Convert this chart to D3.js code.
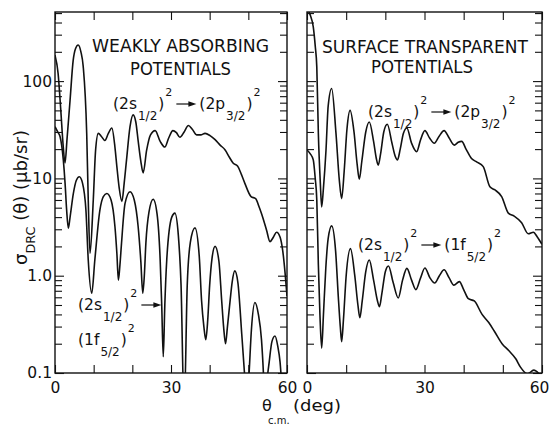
<!DOCTYPE html>
<html><head><meta charset="utf-8">
<script src="https://cdn.jsdelivr.net/npm/d3@7"></script>
<style>
body{margin:0;background:#fff}
svg{display:block}
text{font-family:"DejaVu Sans","Liberation Sans",sans-serif;fill:#111}
</style>
</head><body>
<svg id="c" width="550" height="426"></svg>
<script>
// ---------- data ----------
const xTickValues = [0, 10, 20, 30, 40, 50, 60];
const xTickLabels = ["0", "", "", "30", "", "", "60"];
const yMajorValues = [0.1, 1, 10, 100];
const yMajorLabels = ["0.1", "1.0", "10", "100"];
const panelTitles = [["WEAKLY ABSORBING", "POTENTIALS"], ["SURFACE TRANSPARENT", "POTENTIALS"]];

// [theta (deg), sigma (μb/sr)]
const wa2p = [[0,185],[0.8,120],[1.5,50],[2.1,22],[2.6,14.4],[3.1,25],[3.9,64],[4.7,163],[5.3,215],[6.0,235],[6.7,200],[7.3,141],[8.2,29],[8.6,6],[9.05,1.7],[9.9,6],[10.5,19.5],[11.2,29],[12.0,27],[12.9,24.5],[13.8,29],[14.7,33],[15.5,21],[16.0,13.2],[16.6,8],[17.3,5.8],[17.9,9],[18.5,15.5],[19.4,34],[20.2,45],[20.9,38],[21.5,24.5],[22.2,15],[22.8,11.4],[23.7,19.5],[24.7,28],[25.9,31],[27.2,24],[28.4,21],[29.4,26],[30.5,31],[31.4,29.5],[32.3,26.5],[33.4,30],[34.5,35],[35.5,32],[36.6,28],[37.7,28],[38.8,29],[40.1,27.5],[41.4,25],[42.7,22],[44.0,19.6],[45.1,16.5],[46.1,14.3],[47.2,13.4],[48.2,11],[49.1,8.9],[50.7,6.5],[51.9,6.2],[52.7,5.2],[53.4,4.35],[54.7,2.95],[55.6,2.24],[56.5,2.5],[57.3,2.8],[58.2,2.5],[58.9,1.8],[59.5,1.07],[60,0.62]];
const wa1f = [[0,34],[0.7,30],[1.3,27],[2.15,15.5],[2.6,9],[3.0,4.8],[3.45,3.07],[3.9,4],[4.75,7],[5.5,9.5],[6.3,10.4],[7.1,9],[8.0,4.7],[8.6,1.45],[9.5,0.66],[10.3,1.45],[11.6,4.7],[12.5,6.5],[13.4,7.0],[14.5,6],[15.5,3.2],[16.0,1.7],[16.4,0.9],[16.8,1.3],[17.2,2.15],[18.1,5.5],[19.4,7.3],[20.5,6],[21.5,3.2],[22.2,1.4],[22.7,0.66],[23.1,1.0],[23.5,2.15],[24.3,4.5],[25.4,6.1],[26.4,4.3],[27.2,1.45],[27.6,0.5],[28.0,0.147],[28.4,0.5],[28.9,1.45],[30.2,4.0],[31.0,4.4],[31.9,2.6],[32.6,0.8],[33.4,0.04],[34.2,0.8],[35.0,2.2],[36.2,3.1],[37.3,1.6],[37.9,0.56],[38.5,0.3],[39.0,0.22],[39.5,0.35],[40.0,0.8],[40.6,1.5],[41.4,2.0],[42.4,1.4],[43.1,0.56],[43.6,0.3],[44.1,0.2],[44.6,0.3],[45.3,0.56],[45.8,0.85],[46.5,1.12],[47.3,0.85],[48.3,0.25],[49.0,0.1],[49.6,0.04],[50.2,0.1],[50.8,0.28],[51.7,0.53],[52.6,0.4],[53.4,0.22],[53.9,0.1],[54.3,0.04],[54.8,0.08],[55.4,0.13],[56.1,0.21],[56.9,0.24],[57.6,0.19],[58.2,0.13],[58.8,0.06],[59.3,0.03]];
const st2p = [[0,560],[0.8,480],[1.6,360],[2.1,230],[2.5,140],[2.9,29],[3.4,9],[3.75,5.1],[4.2,8],[4.85,19.5],[5.4,55],[6.3,84],[7.4,29],[8.25,9.6],[8.85,6.2],[9.5,12],[10.2,32],[11.0,50],[12.0,30],[12.8,14],[13.35,9.8],[14.0,15],[15.0,30],[15.9,38],[17.0,24],[17.7,16],[18.2,13.7],[18.8,18],[19.6,30],[20.5,36],[21.7,23],[22.5,17],[23.1,15.5],[23.8,20],[24.6,29],[25.5,33],[26.7,23],[28.0,18.8],[29.0,25],[30.1,31],[31.3,26],[32.5,23],[33.7,27],[35.0,31],[36.3,26],[37.6,22],[38.6,23.5],[39.5,24],[40.6,20],[42.0,16],[43.3,14.8],[45.0,13.2],[46.7,8.2],[48.0,7.6],[49.7,6.5],[51.4,4.4],[52.9,4.1],[54.8,3.5],[56.5,2.7],[57.8,2.8],[58.8,2.5],[60,2.1]];
const st1f = [[0,19.6],[0.8,18],[1.6,15.5],[2.1,10],[2.5,6],[2.9,1.3],[3.3,0.4],[3.75,0.18],[4.2,0.4],[4.8,1.2],[5.4,2.4],[6.3,3.25],[7.3,1.8],[8.0,0.6],[8.5,0.3],[8.85,0.21],[9.3,0.35],[10.0,1.0],[11.1,1.9],[12.2,1.0],[13.0,0.5],[13.5,0.37],[14.1,0.55],[15.0,1.1],[15.9,1.45],[17.0,0.9],[18.0,0.55],[18.5,0.48],[19.1,0.65],[20.0,1.1],[20.8,1.26],[22.0,0.85],[23.3,0.59],[24.4,0.9],[25.5,1.19],[26.7,0.9],[27.8,0.72],[29.0,0.95],[30.1,1.2],[31.4,0.95],[32.6,0.84],[33.8,1.0],[35.0,1.15],[36.3,0.95],[37.5,0.8],[38.9,0.87],[40.0,0.72],[41.2,0.58],[42.7,0.55],[44.7,0.4],[46.4,0.33],[47.8,0.27],[49.8,0.2],[51.5,0.17],[53.3,0.14],[54.5,0.115],[56.3,0.098],[57.9,0.107],[60,0.09]];

// ---------- layout ----------
const svg = d3.select("#c");
const TOP = 12, BOT = 373;
const y = d3.scaleLog().domain([0.1, 513]).range([BOT, TOP]);
const yAll = [];
[0.1, 1, 10, 100].forEach(d => { for (let k = 1; k <= 9; k++) { const v = +(k * d).toPrecision(3); if (v <= 513) yAll.push(v); } });
const isMajor = v => yMajorValues.some(m => Math.abs(m - v) < 1e-9);
const ink = "#111";

const panels = [
  {x0: 55, x1: 287, series: [wa2p, wa1f], titleX: 180.5, titleW: [177, 101]},
  {x0: 307, x1: 542, series: [st2p, st1f], titleX: 425, titleW: [206, 102]}
];

panels.forEach((p, i) => {
  const x = d3.scaleLinear().domain([0, 60]).range([p.x0, p.x1]);
  svg.append("clipPath").attr("id", "clip" + i).append("rect")
    .attr("x", p.x0).attr("y", TOP).attr("width", p.x1 - p.x0).attr("height", BOT - TOP);
  const line = d3.line().x(d => x(d[0])).y(d => y(d[1])).curve(d3.curveMonotoneX);
  p.series.forEach(s => svg.append("path").attr("d", line(s)).attr("clip-path", `url(#clip${i})`)
    .attr("fill", "none").attr("stroke", ink).attr("stroke-width", 1.6).attr("stroke-linejoin", "round"));

  // left axis
  const gl = svg.append("g").attr("transform", `translate(${p.x0},0)`)
    .call(d3.axisLeft(y).tickValues(yAll).tickSizeInner(-7).tickSizeOuter(0).tickPadding(3)
      .tickFormat(v => (i === 0 && isMajor(v)) ? yMajorLabels[yMajorValues.findIndex(m => Math.abs(m - v) < 1e-9)] : ""));
  // right axis
  const gr = svg.append("g").attr("transform", `translate(${p.x1},0)`)
    .call(d3.axisRight(y).tickValues(yAll).tickSizeInner(-7).tickSizeOuter(0).tickFormat(""));
  [gl, gr].forEach((g, k) => {
    g.select(".domain").remove();
    g.selectAll(".tick line").attr("stroke", ink).attr("stroke-width", 1.1)
      .attr("x2", d => (isMajor(d) ? 9 : 7) * (k === 0 ? 1 : -1));
    g.attr("font-size", 15.5).selectAll("text").attr("fill", ink);
  });
  // bottom axis
  const gb = svg.append("g").attr("transform", `translate(0,${BOT})`)
    .call(d3.axisBottom(x).tickValues(xTickValues).tickSizeInner(-8).tickSizeOuter(0).tickPadding(9)
      .tickFormat((v, j) => xTickLabels[j]));
  const gt = svg.append("g").attr("transform", `translate(0,${TOP})`)
    .call(d3.axisTop(x).tickValues(xTickValues).tickSizeInner(-8).tickSizeOuter(0).tickFormat(""));
  [gb, gt].forEach(g => {
    g.select(".domain").remove();
    g.selectAll(".tick line").attr("stroke", ink).attr("stroke-width", 1.1);
    g.attr("font-size", 15.5).selectAll("text").attr("fill", ink);
  });
  // keep the right-most "60" inside the picture
  if (i === 1) gb.selectAll(".tick text").filter(d => d === 60).attr("dx", -3);

  svg.append("rect").attr("x", p.x0).attr("y", TOP).attr("width", p.x1 - p.x0).attr("height", BOT - TOP)
    .attr("fill", "none").attr("stroke", ink).attr("stroke-width", 1.4);

  // titles
  svg.append("text").attr("x", p.titleX).attr("y", i === 0 ? 52 : 53).attr("text-anchor", "middle")
    .attr("font-size", 17).attr("textLength", p.titleW[0]).attr("lengthAdjust", "spacingAndGlyphs").text(panelTitles[i][0]);
  svg.append("text").attr("x", i === 0 ? 180.5 : 422).attr("y", i === 0 ? 75 : 73).attr("text-anchor", "middle")
    .attr("font-size", 17).attr("textLength", p.titleW[1]).attr("lengthAdjust", "spacingAndGlyphs").text(panelTitles[i][1]);
});

// ---------- transition labels ----------
function arrow(xa, xb, yy) {
  svg.append("line").attr("x1", xa).attr("x2", xb - 6).attr("y1", yy).attr("y2", yy)
    .attr("stroke", ink).attr("stroke-width", 1.2);
  svg.append("path").attr("d", `M${xb},${yy} L${xb - 8},${yy - 2.8} L${xb - 8},${yy + 2.8} Z`).attr("fill", ink);
}
function label(parts, x0, base) {
  let xx = x0;
  parts.forEach(pt => {
    if (pt.arrow) { arrow(xx + 3, xx + 3 + pt.arrow, base - 5); xx += pt.arrow + 6; return; }
    const dy = pt.t === "sub" ? 11 : pt.t === "sup" ? -13 : 0;
    const fs = pt.t === "main" ? 15.5 : pt.t === "sub" ? 12 : 11;
    const t = svg.append("text").attr("x", xx).attr("y", base + dy).attr("font-size", fs).text(pt.s);
    xx += t.node().getComputedTextLength() + 1;
  });
  return xx;
}
const s12 = [{s: "(2s", t: "main"}, {s: "1/2", t: "sub"}, {s: ")", t: "main"}, {s: "2", t: "sup"}];
const p32 = [{s: "(2p", t: "main"}, {s: "3/2", t: "sub"}, {s: ")", t: "main"}, {s: "2", t: "sup"}];
const f52 = [{s: "(1f", t: "main"}, {s: "5/2", t: "sub"}, {s: ")", t: "main"}, {s: "2", t: "sup"}];
label([...s12, {arrow: 20}, ...p32], 113, 109);
label([...s12, {arrow: 20}], 78, 310);
label(f52, 78, 345);
label([...s12, {arrow: 20}, ...p32], 368, 117);
label([...s12, {arrow: 20}, ...f52], 358, 250);

// ---------- axis titles ----------
const yt = svg.append("text").attr("transform", "translate(27,265) rotate(-90)").attr("font-size", 17)
  .attr("textLength", 135).attr("lengthAdjust", "spacingAndGlyphs");
yt.append("tspan").text("σ");
yt.append("tspan").attr("font-size", 12).attr("dy", 8).text("DRC");
yt.append("tspan").attr("dy", -8).text(" (θ) (μb/sr)");

svg.append("text").attr("x", 262).attr("y", 411).attr("font-size", 16).text("θ");
svg.append("text").attr("x", 268).attr("y", 424).attr("font-size", 10).text("c.m.");
svg.append("text").attr("x", 293).attr("y", 411).attr("font-size", 15)
  .attr("textLength", 48).attr("lengthAdjust", "spacingAndGlyphs").text("(deg)");
</script>
</body></html>
